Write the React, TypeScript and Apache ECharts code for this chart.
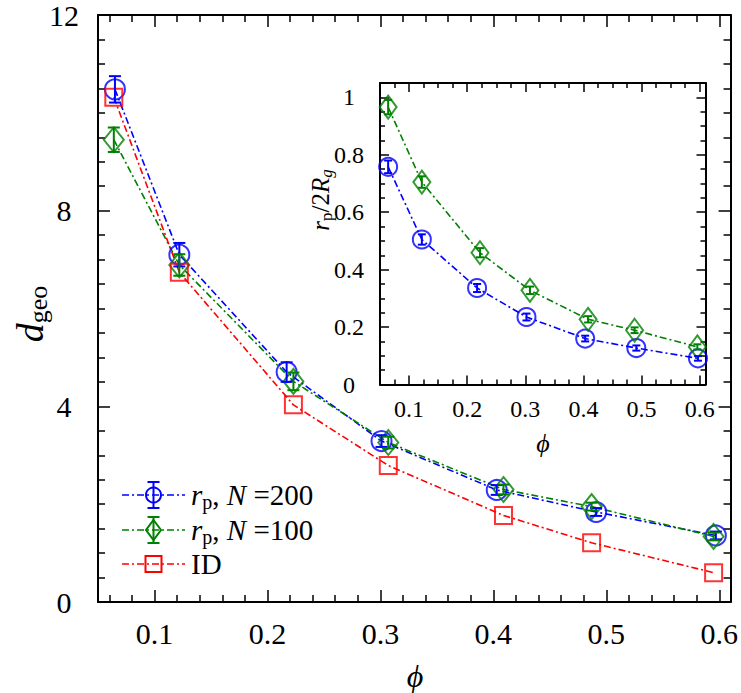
import React, { useEffect, useRef } from 'react';
import * as echarts from 'echarts';

const FONT = '"Liberation Serif", "Times New Roman", serif';
const BLUE = '#0000ff';
const GREEN = '#008000';
const RED = '#ff0000';
const DASH = [7, 3, 2, 3];

// ---- main panel: d_geo vs phi ----
const phiN200 = [0.065, 0.122, 0.217, 0.301, 0.403, 0.491, 0.597];
const dgeoN200 = [10.48, 7.1, 4.7, 3.29, 2.29, 1.84, 1.36];
const dgeoN200Err = [0.27, 0.24, 0.2, 0.12, 0.1, 0.08, 0.08];
const phiN100 = [0.064, 0.122, 0.223, 0.307, 0.409, 0.487, 0.595];
const dgeoN100 = [9.45, 6.89, 4.51, 3.26, 2.3, 1.95, 1.34];
const dgeoN100Err = [0.25, 0.22, 0.18, 0.12, 0.1, 0.08, 0.08];
const phiID = [0.064, 0.122, 0.223, 0.307, 0.409, 0.487, 0.595];
const dgeoID = [10.32, 6.74, 4.03, 2.79, 1.77, 1.21, 0.6];

// ---- inset: r_p / 2R_g vs phi ----
const insetPhiN200 = [0.064, 0.122, 0.217, 0.302, 0.403, 0.491, 0.597];
const rpN200 = [0.758, 0.505, 0.336, 0.235, 0.16, 0.127, 0.091];
const rpN200Err = [0.022, 0.018, 0.014, 0.012, 0.01, 0.009, 0.008];
const insetPhiN100 = [0.064, 0.122, 0.222, 0.308, 0.408, 0.488, 0.596];
const rpN100 = [0.966, 0.705, 0.459, 0.328, 0.227, 0.189, 0.131];
const rpN100Err = [0.025, 0.02, 0.016, 0.013, 0.011, 0.01, 0.009];

// ---- tick labels ----
const mainXTicks = [0.1, 0.2, 0.3, 0.4, 0.5, 0.6];
const mainYTicks = [0, 4, 8, 12];
const insetXTicks = [0.1, 0.2, 0.3, 0.4, 0.5, 0.6];
const insetYTicks = [0, 0.2, 0.4, 0.6, 0.8, 1];

const fmt = (ticks: number[]) => (v: number) => {
  const t = ticks.find((k) => Math.abs(k - v) < 1e-6);
  return t === undefined ? '' : String(t);
};

const black = '#000';

function axisBase(opts: any) {
  const {
    gridIndex, position, showLabel, fontSize, tickLen, minorLen, minorSplit, ticks, margin, align,
  } = opts;
  return {
    type: 'value',
    gridIndex,
    position,
    axisLine: { show: true, onZero: false, lineStyle: { color: black, width: 2 } },
    axisTick: { show: true, inside: true, length: tickLen, lineStyle: { color: black, width: 1.5 } },
    minorTick: { show: true, splitNumber: minorSplit, length: minorLen, lineStyle: { color: black, width: 1.5 } },
    splitLine: { show: false },
    minorSplitLine: { show: false },
    axisLabel: {
      show: showLabel,
      showMinLabel: true,
      showMaxLabel: true,
      hideOverlap: false,
      formatter: fmt(ticks),
      color: black,
      fontFamily: FONT,
      fontSize,
      margin,
      align,
    },
  };
}

function errSeries(name: string, xs: number[], ys: number[], es: number[], color: string, cap: number, xi: number, yi: number) {
  return {
    name,
    type: 'custom',
    xAxisIndex: xi,
    yAxisIndex: yi,
    data: xs.map((x, i) => [x, ys[i], es[i]]),
    encode: { x: 0, y: 1 },
    silent: true,
    z: 4,
    renderItem: (params: any, api: any) => {
      const x = api.value(0);
      const y = api.value(1);
      const e = api.value(2);
      const top = api.coord([x, y + e]);
      const bot = api.coord([x, y - e]);
      const st = { stroke: color, lineWidth: 2 };
      return {
        type: 'group',
        children: [
          { type: 'line', shape: { x1: top[0], y1: top[1], x2: bot[0], y2: bot[1] }, style: st },
          { type: 'line', shape: { x1: top[0] - cap / 2, y1: top[1], x2: top[0] + cap / 2, y2: top[1] }, style: st },
          { type: 'line', shape: { x1: bot[0] - cap / 2, y1: bot[1], x2: bot[0] + cap / 2, y2: bot[1] }, style: st },
        ],
      };
    },
  };
}

function lineSeries(name: string, xs: number[], ys: number[], color: string, xi: number, yi: number) {
  return {
    name,
    type: 'line',
    xAxisIndex: xi,
    yAxisIndex: yi,
    data: xs.map((x, i) => [x, ys[i]]),
    symbol: 'none',
    silent: true,
    z: 2,
    lineStyle: { color, width: 1.6, type: DASH },
  };
}

function markSeries(name: string, xs: number[], ys: number[], color: string, symbol: string, size: any, xi: number, yi: number) {
  return {
    name,
    type: 'scatter',
    xAxisIndex: xi,
    yAxisIndex: yi,
    data: xs.map((x, i) => [x, ys[i]]),
    symbol,
    symbolSize: size,
    silent: true,
    z: 3,
    itemStyle: { color: 'rgba(0,0,0,0)', borderColor: color, borderWidth: 2 },
  };
}

function legendRow(x1: number, x2: number, y: number, color: string, kind: string, size: number[], errHalf: number, cap: number, textX: number, rich: any, text: string) {
  const cx = (x1 + x2) / 2;
  const st = { stroke: color, lineWidth: 2, fill: 'none' };
  const children: any[] = [
    { type: 'line', shape: { x1, y1: y, x2, y2: y }, style: { stroke: color, lineWidth: 1.6, lineDash: DASH } },
  ];
  if (kind === 'circle') children.push({ type: 'circle', shape: { cx, cy: y, r: size[0] / 2 }, style: st });
  if (kind === 'diamond') {
    const w = size[0] / 2;
    const h = size[1] / 2;
    children.push({ type: 'polygon', shape: { points: [[cx, y - h], [cx + w, y], [cx, y + h], [cx - w, y]] }, style: st });
  }
  if (kind === 'rect') children.push({ type: 'rect', shape: { x: cx - size[0] / 2, y: y - size[0] / 2, width: size[0], height: size[0] }, style: st });
  if (errHalf > 0) {
    children.push({ type: 'line', shape: { x1: cx, y1: y - errHalf, x2: cx, y2: y + errHalf }, style: st });
    children.push({ type: 'line', shape: { x1: cx - cap / 2, y1: y - errHalf, x2: cx + cap / 2, y2: y - errHalf }, style: st });
    children.push({ type: 'line', shape: { x1: cx - cap / 2, y1: y + errHalf, x2: cx + cap / 2, y2: y + errHalf }, style: st });
  }
  children.push({
    type: 'text',
    x: textX,
    y,
    style: { text, rich, fill: black, align: 'left', verticalAlign: 'middle', fontFamily: FONT },
  });
  return { type: 'group', children };
}

function richSet(size: number, sub: number, shift: number) {
  return {
    i: { fontFamily: FONT, fontSize: size, fontStyle: 'italic', fill: black, lineHeight: size },
    n: { fontFamily: FONT, fontSize: size, fill: black, lineHeight: size },
    s: { fontFamily: FONT, fontSize: sub, fill: black, lineHeight: sub, padding: [shift, 0, 0, 0] },
    si: { fontFamily: FONT, fontSize: sub, fontStyle: 'italic', fill: black, lineHeight: sub, padding: [shift, 0, 0, 0] },
  };
}

export default function App() {
  const ref = useRef<HTMLDivElement>(null);
  useEffect(() => {
    if (!ref.current) return;
    const chart = echarts.init(ref.current, undefined, { renderer: 'svg' });
    const mainRich = richSet(29, 20, 14);
    const insetRich = richSet(25, 17, 12);
    const option: any = {
      animation: false,
      backgroundColor: '#fff',
      grid: [
        { left: 98, top: 12, width: 633, height: 590, containLabel: false },
        { left: 380, top: 83, width: 325.5, height: 301.5, containLabel: false, show: true, backgroundColor: '#fff', borderWidth: 0, z: 5 },
      ],
      xAxis: [
        { ...axisBase({ gridIndex: 0, position: 'bottom', showLabel: true, fontSize: 30, tickLen: 12, minorLen: 7, minorSplit: 5, ticks: mainXTicks, margin: 16 }), min: 0.05, max: 0.61, minInterval: 0.1, maxInterval: 0.1 },
        { ...axisBase({ gridIndex: 0, position: 'top', showLabel: false, fontSize: 30, tickLen: 12, minorLen: 7, minorSplit: 5, ticks: mainXTicks, margin: 16 }), min: 0.05, max: 0.61, minInterval: 0.1, maxInterval: 0.1 },
        { ...axisBase({ gridIndex: 1, position: 'bottom', showLabel: true, fontSize: 24, tickLen: 9, minorLen: 5, minorSplit: 4, ticks: insetXTicks, margin: 12 }), min: 0.05, max: 0.61, minInterval: 0.1, maxInterval: 0.1, z: 6 },
        { ...axisBase({ gridIndex: 1, position: 'top', showLabel: false, fontSize: 24, tickLen: 9, minorLen: 5, minorSplit: 4, ticks: insetXTicks, margin: 12 }), min: 0.05, max: 0.61, minInterval: 0.1, maxInterval: 0.1, z: 6 },
      ],
      yAxis: [
        { ...axisBase({ gridIndex: 0, position: 'left', showLabel: true, fontSize: 30, tickLen: 12, minorLen: 7, minorSplit: 8, ticks: mainYTicks, margin: 34, align: 'center' }), min: 0, max: 12, interval: 4 },
        { ...axisBase({ gridIndex: 0, position: 'right', showLabel: false, fontSize: 30, tickLen: 12, minorLen: 7, minorSplit: 8, ticks: mainYTicks, margin: 34 }), min: 0, max: 12, interval: 4 },
        { ...axisBase({ gridIndex: 1, position: 'left', showLabel: true, fontSize: 24, tickLen: 9, minorLen: 5, minorSplit: 4, ticks: insetYTicks, margin: 31, align: 'center' }), min: 0, max: 1.05, minInterval: 0.2, maxInterval: 0.2, z: 6 },
        { ...axisBase({ gridIndex: 1, position: 'right', showLabel: false, fontSize: 24, tickLen: 9, minorLen: 5, minorSplit: 4, ticks: insetYTicks, margin: 31 }), min: 0, max: 1.05, minInterval: 0.2, maxInterval: 0.2, z: 6 },
      ],
      series: [
        lineSeries('rp N=200', phiN200, dgeoN200, BLUE, 0, 0),
        lineSeries('rp N=100', phiN100, dgeoN100, GREEN, 0, 0),
        lineSeries('ID', phiID, dgeoID, RED, 0, 0),
        markSeries('rp N=200 m', phiN200, dgeoN200, BLUE, 'circle', 20, 0, 0),
        markSeries('rp N=100 m', phiN100, dgeoN100, GREEN, 'diamond', [20, 25], 0, 0),
        markSeries('ID m', phiID, dgeoID, RED, 'rect', 17, 0, 0),
        errSeries('rp N=200 e', phiN200, dgeoN200, dgeoN200Err, BLUE, 12, 0, 0),
        errSeries('rp N=100 e', phiN100, dgeoN100, dgeoN100Err, GREEN, 12, 0, 0),
        { ...lineSeries('inset N=200', insetPhiN200, rpN200, BLUE, 2, 2), z: 7 },
        { ...lineSeries('inset N=100', insetPhiN100, rpN100, GREEN, 2, 2), z: 7 },
        { ...markSeries('inset N=200 m', insetPhiN200, rpN200, BLUE, 'circle', 18, 2, 2), z: 8 },
        { ...markSeries('inset N=100 m', insetPhiN100, rpN100, GREEN, 'diamond', [17, 23], 2, 2), z: 8 },
        { ...errSeries('inset N=200 e', insetPhiN200, rpN200, rpN200Err, BLUE, 8, 2, 2), z: 9 },
        { ...errSeries('inset N=100 e', insetPhiN100, rpN100, rpN100Err, GREEN, 8, 2, 2), z: 9 },
      ],
      graphic: [
        // axis titles
        {
          type: 'text', x: 415, y: 676, z: 20,
          style: { text: 'ϕ', fontFamily: FONT, fontSize: 32, fontStyle: 'italic', fill: black, align: 'center', verticalAlign: 'middle' },
        },
        {
          type: 'text', x: 30, y: 314, rotation: Math.PI / 2, z: 20,
          style: {
            text: '{d|d}{s|geo}', align: 'center', verticalAlign: 'middle',
            rich: {
              d: { fontFamily: FONT, fontSize: 38, fontStyle: 'italic', fill: black, lineHeight: 38 },
              s: { fontFamily: FONT, fontSize: 26, fill: black, lineHeight: 26, padding: [16, 0, 0, 0] },
            },
          },
        },
        {
          type: 'text', x: 543, y: 443, z: 20,
          style: { text: 'ϕ', fontFamily: FONT, fontSize: 26, fontStyle: 'italic', fill: black, align: 'center', verticalAlign: 'middle' },
        },
        {
          type: 'text', x: 320, y: 200, rotation: Math.PI / 2, z: 20,
          style: { text: '{i|r}{s|p}{n|/2}{i|R}{si|g}', align: 'center', verticalAlign: 'middle', rich: insetRich },
        },
        // main legend
        { ...legendRow(122, 185, 495, BLUE, 'circle', [15], 13, 12, 191, mainRich, '{i|r}{s|p}{n|, }{i|N}{n| =200}'), z: 20 },
        { ...legendRow(122, 185, 530, GREEN, 'diamond', [15, 20], 13, 12, 191, mainRich, '{i|r}{s|p}{n|, }{i|N}{n| =100}'), z: 20 },
        { ...legendRow(122, 185, 564, RED, 'rect', [16], 0, 0, 191, mainRich, '{n|ID}'), z: 20 },
        // inset legend
        { ...legendRow(547, 604, 112, BLUE, 'circle', [15], 11, 10, 610, insetRich, '{i|N}{n| =200}'), z: 20 },
        { ...legendRow(547, 604, 141, GREEN, 'diamond', [15, 20], 11, 10, 610, insetRich, '{i|N}{n| =100}'), z: 20 },
      ],
    };
    chart.setOption(option);
    return () => chart.dispose();
  }, []);
  return <div ref={ref} style={{ position: 'absolute', left: 0, top: 0, width: 741, height: 693 }} />;
}
